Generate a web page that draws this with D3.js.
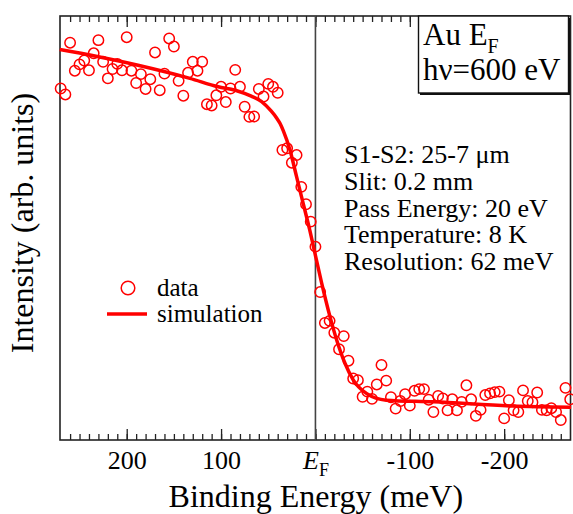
<!DOCTYPE html>
<html>
<head>
<meta charset="utf-8">
<style>
body { margin: 0; background: #fff; }
text { font-family: "Liberation Serif", "Times New Roman", serif; fill: #000; }
</style>
</head>
<body>
<svg id="chart" width="573" height="514"></svg>

<script src="https://d3js.org/d3.v7.min.js"></script>
<script>
// binding energy of each measured point (meV)
var energy = [270, 265, 260, 255, 250, 245, 240, 235, 230, 225,
    220, 215, 210, 205, 200, 195, 190, 185, 180, 175,
    170, 165, 160, 155, 150, 145, 140, 135, 130, 125,
    120, 115, 110, 105, 100, 95, 90, 85, 80, 75,
    70, 65, 60, 55, 50, 45, 40, 35, 30, 25,
    20, 15, 10, 5, 0, -5, -10, -15, -20, -25,
    -30, -35, -40, -45, -50, -55, -60, -65, -70, -75,
    -80, -85, -90, -95, -100, -105, -110, -115, -120, -125,
    -130, -135, -140, -145, -150, -155, -160, -165, -170, -175,
    -180, -185, -190, -195, -200, -205, -210, -215, -220, -225,
    -230, -235, -240, -245, -250, -255, -260, -265, -270];

// measured intensity (arb. units)
var intensity = [82.9, 81.5, 93.7, 87.1, 88.6, 89.5, 87.2, 91.2, 94.3, 89.2,
    85.3, 87.5, 88.7, 87.2, 95.0, 87.1, 84.2, 86.3, 82.8, 85.1,
    91.4, 82.5, 86.4, 94.7, 92.8, 84.7, 81.2, 86.6, 89.2, 87.1,
    89.2, 79.2, 78.9, 81.3, 83.3, 79.7, 82.9, 87.3, 83.3, 78.6,
    76.2, 76.3, 82.8, 81.0, 84.0, 83.3, 81.9, 68.4, 68.8, 65.4,
    67.2, 59.7, 55.6, 51.5, 45.6, 34.9, 27.6, 28.1, 25.3, 21.4,
    24.5, 18.7, 14.5, 14.1, 10.2, 11.4, 9.7, 13.1, 17.7, 14.0,
    10.1, 7.4, 9.2, 10.8, 8.1, 11.6, 12.0, 12.0, 9.5, 6.6,
    10.4, 9.8, 7.0, 9.6, 7.0, 9.0, 12.9, 9.6, 5.7, 7.1,
    10.6, 11.0, 11.3, 11.4, 5.1, 9.4, 7.0, 6.6, 11.7, 9.2,
    8.9, 11.2, 7.1, 7.0, 7.5, 6.6, 4.7, 12.3, 9.6];

// simulated curve
var simEnergy = [271, 230, 188, 133, 103, 85, 68, 57, 47, 41, 37.6, 34, 27, 20, 13, 6,
    0.5, -6.6, -15.4, -22.5, -31.3, -40, -54, -75, -125, -209, -271];
var simIntensity = [92.1, 90.4, 88.4, 85.3, 83.3, 82.5, 81.1, 79.8, 77.6, 75.9, 74.7, 72.9, 68.4, 62.1, 55.8, 49.5,
    44.0, 37.0, 29.1, 23.6, 18.1, 14.2, 11.0, 9.4, 9.0, 8.0, 7.7];

var tickValues = [200, 100, 0, -100, -200];
var tickLabels = ["200", "100", "E", "-100", "-200"];
var infoLines = ["S1-S2: 25-7 \u03bcm", "Slit: 0.2 mm", "Pass Energy: 20 eV", "Temperature: 8 K", "Resolution: 62 meV"];

var svg = d3.select("#chart");
var plotL = 60, plotR = 570.5, plotT = 16, plotB = 440;

var x = d3.scaleLinear().domain([270.7, -270.3]).range([plotL, plotR]);
var y = d3.scaleLinear().domain([0, 100]).range([plotB, plotT]);
var minorTicks = d3.range(-260, 261, 10);

function noDomain(g) { g.select(".domain").remove(); g.attr("color", "#222"); g.selectAll("line").attr("stroke-width", 1.3); }

// ticks, inside the frame
svg.append("g").attr("transform", "translate(0," + plotB + ")")
    .call(d3.axisBottom(x).tickValues(minorTicks).tickSize(-6).tickFormat("")).call(noDomain);
svg.append("g").attr("transform", "translate(0," + plotT + ")")
    .call(d3.axisTop(x).tickValues(minorTicks).tickSize(-6).tickFormat("")).call(noDomain);
svg.append("g").attr("transform", "translate(0," + plotT + ")")
    .call(d3.axisTop(x).tickValues(tickValues).tickSize(-11).tickFormat("")).call(noDomain);

var bx = svg.append("g").attr("transform", "translate(0," + plotB + ")")
    .call(d3.axisBottom(x).tickValues(tickValues).tickSize(-11).tickPadding(10.5)
        .tickFormat(function (d, i) { return tickLabels[i]; }))
    .call(noDomain);
bx.attr("font-size", 26).attr("font-family", null);
bx.selectAll("text").attr("fill", "#000").each(function (d) {
    if (d === 0) {
        var t = d3.select(this);
        t.text(null);
        t.append("tspan").attr("font-style", "italic").text("E");
        t.append("tspan").attr("font-size", 18).attr("dy", 7).text("F");
    }
});

// frame
svg.append("rect").attr("x", plotL).attr("y", plotT)
    .attr("width", plotR - plotL).attr("height", plotB - plotT)
    .attr("fill", "none").attr("stroke", "#222").attr("stroke-width", 1.6);

// Fermi level marker
svg.append("line").attr("x1", x(0)).attr("x2", x(0)).attr("y1", plotT).attr("y2", plotB)
    .attr("stroke", "#444").attr("stroke-width", 1.6);

// data
svg.append("g").selectAll("circle").data(energy).join("circle")
    .attr("cx", function (d) { return x(d); })
    .attr("cy", function (d, i) { return y(intensity[i]); })
    .attr("r", 5.2)
    .attr("fill", "none").attr("stroke", "red").attr("stroke-width", 1.5);

var line = d3.line()
    .x(function (d) { return x(d); })
    .y(function (d, i) { return y(simIntensity[i]); })
    .curve(d3.curveMonotoneX);
svg.append("path").datum(simEnergy).attr("d", line)
    .attr("fill", "none").attr("stroke", "red").attr("stroke-width", 3.5);

// legend
svg.append("circle").attr("cx", 128).attr("cy", 288).attr("r", 6.8)
    .attr("fill", "none").attr("stroke", "red").attr("stroke-width", 1.5);
svg.append("text").attr("x", 157).attr("y", 296).attr("font-size", 25).text("data");
svg.append("line").attr("x1", 107).attr("x2", 147).attr("y1", 314).attr("y2", 314)
    .attr("stroke", "red").attr("stroke-width", 3.5);
svg.append("text").attr("x", 157).attr("y", 322).attr("font-size", 25).text("simulation");

// measurement conditions
svg.append("g").selectAll("text").data(infoLines).join("text")
    .attr("x", 344).attr("y", function (d, i) { return 163 + i * 26.8; })
    .attr("font-size", 26).text(function (d) { return d; });

// title box
svg.append("rect").attr("x", 420).attr("y", 18).attr("width", 150).attr("height", 77).attr("fill", "#111");
svg.append("rect").attr("x", 418.5).attr("y", 16).attr("width", 150).attr("height", 77)
    .attr("fill", "#fff").attr("stroke", "#111").attr("stroke-width", 1.4);
var t1 = svg.append("text").attr("x", 423).attr("y", 45).attr("font-size", 31);
t1.append("tspan").text("Au E");
t1.append("tspan").attr("font-size", 20).attr("dy", 8).text("F");
svg.append("text").attr("x", 423).attr("y", 80).attr("font-size", 31).text("h\u03bd=600 eV");

// axis titles
svg.append("text").attr("x", 315.8).attr("y", 507).attr("text-anchor", "middle")
    .attr("font-size", 32).text("Binding Energy (meV)");
svg.append("text").attr("transform", "translate(33,223) rotate(-90)").attr("text-anchor", "middle")
    .attr("font-size", 32).text("Intensity (arb. units)");
</script>
</body>
</html>
